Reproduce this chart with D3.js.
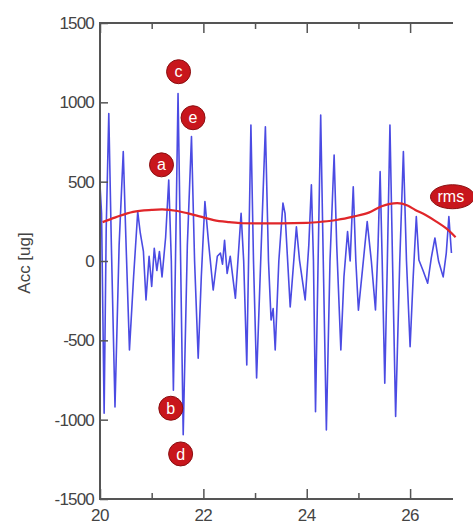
<!DOCTYPE html>
<html>
<head>
<meta charset="utf-8">
<script src="https://cdn.jsdelivr.net/npm/d3@7"></script>
<style>
  body { margin: 0; background: #fff; }
  svg { display: block; font-family: "Liberation Sans", Arial, sans-serif; }
</style>
</head>
<body>
<svg width="473" height="523"></svg>
<script>
// acceleration trace (time in s, acc in ug)
var timeS = [20.00, 20.03, 20.08, 20.12, 20.17, 20.22, 20.29, 20.37, 20.45, 20.50,
  20.57, 20.65, 20.73, 20.78, 20.84, 20.89, 20.95, 21.00, 21.05, 21.10,
  21.15, 21.20, 21.27, 21.33, 21.38, 21.42, 21.47, 21.51, 21.56, 21.61,
  21.69, 21.77, 21.83, 21.90, 21.96, 22.03, 22.10, 22.19, 22.27, 22.33,
  22.37, 22.41, 22.46, 22.52, 22.62, 22.73, 22.78, 22.84, 22.88, 22.92,
  22.97, 23.03, 23.12, 23.20, 23.26, 23.31, 23.35, 23.39, 23.46, 23.54,
  23.58, 23.68, 23.80, 23.86, 23.97, 24.04, 24.09, 24.13, 24.17, 24.22,
  24.27, 24.32, 24.38, 24.45, 24.53, 24.58, 24.66, 24.72, 24.79, 24.84,
  24.90, 24.95, 25.00, 25.08, 25.17, 25.25, 25.33, 25.38, 25.42, 25.46,
  25.51, 25.56, 25.61, 25.66, 25.72, 25.80, 25.87, 25.93, 26.00, 26.06,
  26.12, 26.17, 26.25, 26.34, 26.41, 26.48, 26.55, 26.64, 26.70, 26.75, 26.80];
var accUg = [480, 300, -960, 200, 930, 100, -920, 100, 690, 150,
  -560, -100, 310, 175, 60, -245, 30, -160, 80, -60,
  60, -100, 150, 510, 0, -815, 200, 1055, 0, -1095,
  100, 785, 0, -612, -100, 375, 117, -183, 30, 50,
  -20, 130, -78, 30, -235, 300, 0, -655, 100, 857,
  0, -737, 100, 846, 0, -372, -300, -560, 0, 365,
  300, -290, 215, 6, -245, 100, 480, 0, -950, 0,
  920, 0, -1065, 0, 668, 100, -560, -100, 185, 0,
  468, 0, -310, -50, 248, 0, -308, 100, 563, 0,
  -770, 0, 857, 0, -980, 0, 690, 0, -540, -100,
  280, 6, -60, -140, 20, 145, 0, -100, 50, 280, 50];

// rms envelope
var rmsTime = [20.05, 20.3, 20.64, 21.0, 21.2, 21.5, 21.7, 22.0, 22.2, 22.5,
  22.75, 23.5, 24.0, 24.3, 24.6, 24.9, 25.2, 25.45, 25.75, 25.95,
  26.1, 26.3, 26.5, 26.7, 26.88];
var rmsUg = [245, 275, 310, 322, 325, 315, 300, 275, 258, 245,
  238, 237, 240, 248, 260, 280, 305, 345, 365, 350,
  322, 290, 250, 205, 150];

// labelled events
var markLabels = ["c", "e", "a", "b", "d"];
var markTime = [21.52, 21.80, 21.19, 21.37, 21.56];
var markAcc = [1193, 903, 606, -928, -1216];

var yTicks = [-1500, -1000, -500, 0, 500, 1000, 1500];
var xTicks = [20, 22, 24, 26];
var xMinor = [21, 23, 25];

var svg = d3.select("svg");
var plotL = 100, plotR = 453, plotT = 23, plotB = 499;

var x = d3.scaleLinear().domain([20, 26.83]).range([plotL, plotR]);
var y = d3.scaleLinear().domain([-1500, 1500]).range([plotB, plotT]);

var axisColor = "#555";

// signal
var line = d3.line()
    .x(function(d) { return x(d[0]); })
    .y(function(d) { return y(d[1]); });

svg.append("path")
    .datum(d3.zip(timeS, accUg))
    .attr("d", line)
    .attr("fill", "none")
    .attr("stroke", "#4b4be3")
    .attr("stroke-width", 1.6)
    .attr("stroke-linejoin", "round");

svg.append("path")
    .datum(d3.zip(rmsTime, rmsUg))
    .attr("d", line.curve(d3.curveMonotoneX))
    .attr("fill", "none")
    .attr("stroke", "#e0262a")
    .attr("stroke-width", 2.2);

// axes: left, bottom and top with inward ticks
svg.append("g")
    .attr("transform", "translate(" + plotL + ",0)")
    .call(d3.axisRight(y).tickValues(yTicks).tickSize(8).tickFormat(""))
    .call(function(g) { g.select(".domain").remove(); });

svg.append("g")
    .attr("transform", "translate(0," + plotB + ")")
    .call(d3.axisTop(x).tickValues(xTicks).tickSize(10).tickFormat(""))
    .call(function(g) { g.select(".domain").remove(); });
svg.append("g")
    .attr("transform", "translate(0," + plotB + ")")
    .call(d3.axisTop(x).tickValues(xMinor).tickSize(6).tickFormat(""))
    .call(function(g) { g.select(".domain").remove(); });
svg.append("g")
    .attr("transform", "translate(0," + plotT + ")")
    .call(d3.axisBottom(x).tickValues(xTicks).tickSize(10).tickFormat(""))
    .call(function(g) { g.select(".domain").remove(); });
svg.append("g")
    .attr("transform", "translate(0," + plotT + ")")
    .call(d3.axisBottom(x).tickValues(xMinor).tickSize(6).tickFormat(""))
    .call(function(g) { g.select(".domain").remove(); });

svg.selectAll(".tick line").attr("stroke", axisColor).attr("stroke-width", 1.5);

svg.append("path")
    .attr("d", "M" + plotR + "," + plotT + "H" + plotL + "V" + plotB + "H" + plotR)
    .attr("fill", "none")
    .attr("stroke", axisColor)
    .attr("stroke-width", 2);

// tick labels
svg.append("g").selectAll("text")
    .data(yTicks)
  .enter().append("text")
    .attr("x", plotL - 6)
    .attr("y", function(d) { return y(d); })
    .attr("dy", "0.36em")
    .attr("text-anchor", "end")
    .attr("font-size", 17)
    .attr("letter-spacing", -0.8)
    .attr("fill", "#444")
    .text(function(d) { return d; });

svg.append("g").selectAll("text")
    .data(xTicks)
  .enter().append("text")
    .attr("x", function(d) { return x(d); })
    .attr("y", 521)
    .attr("text-anchor", "middle")
    .attr("font-size", 17)
    .attr("letter-spacing", -0.5)
    .attr("fill", "#444")
    .text(function(d) { return d; });

svg.append("text")
    .attr("transform", "translate(30,263) rotate(-90)")
    .attr("text-anchor", "middle")
    .attr("font-size", 17)
    .attr("fill", "#444")
    .text("Acc [ug]");

// event markers
var marks = svg.append("g").selectAll("g")
    .data(d3.zip(markLabels, markTime, markAcc))
  .enter().append("g")
    .attr("transform", function(d) { return "translate(" + x(d[1]) + "," + y(d[2]) + ")"; });
marks.append("circle")
    .attr("r", 12)
    .attr("fill", "#c8161c")
    .attr("stroke", "#8a0e10")
    .attr("stroke-width", 1);
marks.append("text")
    .attr("text-anchor", "middle")
    .attr("dy", "0.35em")
    .attr("font-size", 16)
    .attr("fill", "#fff")
    .text(function(d) { return d[0]; });

var rmsTag = svg.append("g")
    .attr("transform", "translate(" + x(26.82) + "," + y(405) + ")");
rmsTag.append("ellipse")
    .attr("rx", 22)
    .attr("ry", 12)
    .attr("fill", "#c8161c")
    .attr("stroke", "#8a0e10");
rmsTag.append("text")
    .attr("x", -15)
    .attr("dy", "0.35em")
    .attr("font-size", 16)
    .attr("fill", "#fff")
    .text("rms");
</script>
</body>
</html>
